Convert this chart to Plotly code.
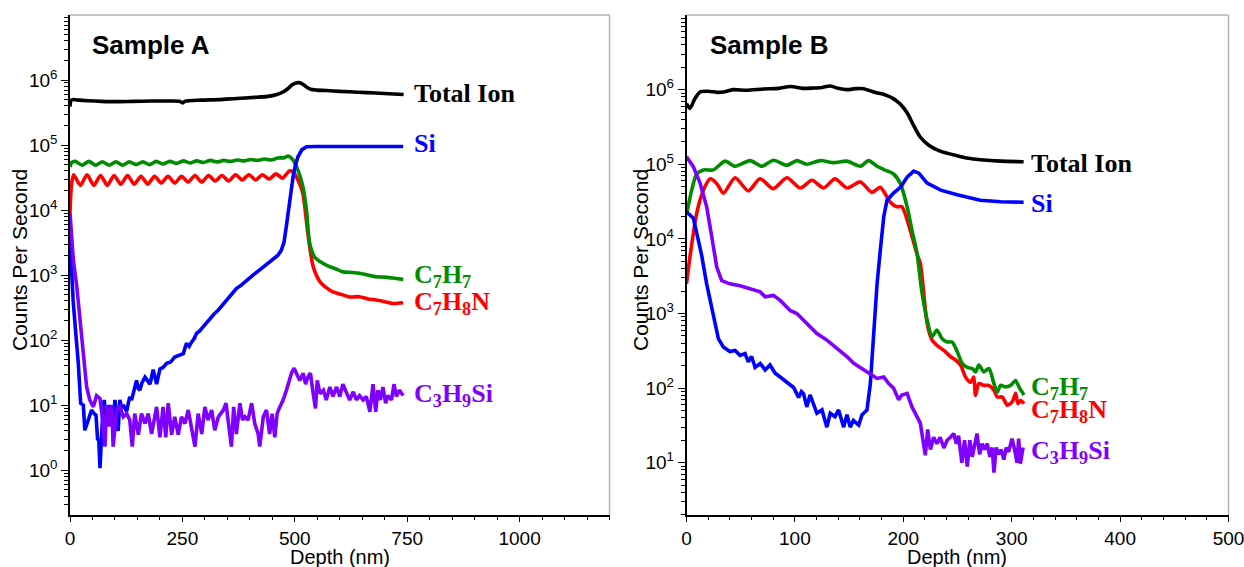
import plotly.graph_objects as go

# ---------------- Sample A data (depth nm, counts per second) ----------------
TOTAL_A = [(0, 3.9e5), (2, 4.8e5), (8, 5.0e5), (20, 4.9e5), (40, 4.8e5), (70, 4.7e5), (100, 4.65e5),
           (140, 4.7e5), (180, 4.75e5), (220, 4.75e5), (244, 4.7e5), (250, 4.45e5), (256, 4.7e5),
           (290, 4.9e5), (330, 5.0e5), (370, 5.2e5), (410, 5.4e5), (440, 5.6e5), (460, 6.0e5),
           (475, 6.6e5), (485, 7.4e5), (495, 8.5e5), (503, 9.0e5), (511, 9.1e5), (518, 8.6e5),
           (526, 7.8e5), (535, 7.2e5), (548, 7.0e5), (570, 6.9e5), (600, 6.7e5), (640, 6.5e5),
           (680, 6.3e5), (720, 6.1e5), (742, 6.0e5)]

SI_A = [(0, 3500), (4, 840), (7, 400), (12, 150), (18.5, 44), (23.7, 10.7), (29.6, 10), (33, 4.1),
        (37, 5), (40.7, 5.9), (44, 7), (48, 8.4), (53, 7.5), (57.8, 7), (61.5, 2.9), (64, 3),
        (66.7, 1.07), (70, 4), (73, 8), (76, 12), (81.5, 5.9), (85, 8), (89, 10), (93, 7), (96, 6),
        (100, 12), (104, 6), (107, 4), (111, 12), (115, 9), (118.5, 10), (122, 9), (126, 8),
        (130, 11), (133, 13.4), (137, 12), (141, 15), (144, 19), (148, 24), (152, 18), (155.5, 17),
        (160, 22), (166.7, 27), (172, 24), (178, 21), (185, 35), (192.6, 21), (200, 36), (207, 38),
        (215, 44), (224, 46), (233, 55), (242, 58), (252, 62), (259, 89), (265, 80), (270, 92),
        (276, 105), (281.5, 127), (289, 140), (296, 160), (303, 185), (311, 215), (320, 250),
        (330, 290), (339, 345), (348, 415), (359, 500), (370, 620), (381, 700), (393, 840),
        (407, 1000), (422, 1200), (437, 1450), (452, 1700), (462, 2000), (470, 2400), (476, 3200),
        (481, 5500), (485, 9000), (489, 1.4e4), (493, 2.2e4), (496, 3.2e4), (501, 4.8e4),
        (507, 6.6e4), (516, 8.5e4), (526, 9.4e4), (545, 9.5e4), (570, 9.5e4), (600, 9.4e4),
        (640, 9.4e4), (680, 9.5e4), (720, 9.4e4), (741, 9.5e4)]

C7H7_A = [(0, 4.6e4), (4, 5.4e4), (12, 5.6e4), (27, 4.9e4), (42, 5.6e4), (57, 4.9e4), (72, 5.5e4),
          (87, 4.9e4), (102, 5.5e4), (117, 4.9e4), (132, 5.5e4), (147, 5.0e4), (162, 5.5e4),
          (177, 5.0e4), (192, 5.6e4), (207, 5.1e4), (222, 5.6e4), (237, 5.2e4), (252, 5.7e4),
          (267, 5.3e4), (282, 5.7e4), (297, 5.4e4), (312, 5.8e4), (327, 5.5e4), (342, 5.8e4),
          (357, 5.6e4), (372, 5.9e4), (387, 5.7e4), (402, 6.0e4), (417, 5.8e4), (432, 6.1e4),
          (447, 5.9e4), (462, 6.3e4), (477, 6.4e4), (485, 6.8e4), (496, 5.9e4), (507, 4.1e4),
          (518, 2.3e4), (526, 1.0e4), (533, 3.1e3), (544, 1.9e3), (557, 1.6e3), (570, 1.42e3),
          (590, 1.25e3), (607, 1.12e3), (625, 1.1e3), (644, 1.07e3), (662, 1.0e3), (681, 940),
          (700, 930), (718, 900), (741, 860)]

C7H8N_A = [(0, 9e3), (3, 2.3e4), (8, 3.5e4), (23, 2.4e4), (38, 3.5e4), (53, 2.4e4), (68, 3.4e4),
           (83, 2.4e4), (98, 3.4e4), (113, 2.5e4), (128, 3.4e4), (143, 2.5e4), (158, 3.3e4),
           (173, 2.5e4), (188, 3.3e4), (203, 2.6e4), (218, 3.3e4), (233, 2.6e4), (248, 3.3e4),
           (263, 2.7e4), (278, 3.4e4), (293, 2.7e4), (308, 3.4e4), (323, 2.8e4), (338, 3.4e4),
           (353, 2.8e4), (368, 3.5e4), (383, 2.9e4), (398, 3.5e4), (413, 2.9e4), (428, 3.5e4),
           (443, 3.0e4), (458, 3.6e4), (473, 3.1e4), (488, 4.0e4), (497, 3.8e4), (507, 2.9e4),
           (518, 1.8e4), (529, 4.4e3), (541, 1.34e3), (556, 790), (570, 640), (585, 550),
           (605, 500), (622, 460), (644, 465), (663, 430), (681, 415), (700, 390), (718, 365),
           (741, 375)]

C3H9SI_A = [(0, 9000), (7.4, 1700), (14.8, 700), (18.5, 380), (26, 142), (33, 44), (37, 19), (44, 12),
            (52, 9.4), (59, 14), (66.7, 12.6), (72.6, 5.9), (77.8, 2.3), (81.5, 10), (87.4, 4.7),
            (92.6, 10), (96, 2.3), (103.7, 8.4), (111, 9.4), (118.5, 6.6), (126, 7.4), (133, 5.9),
            (138.5, 2.3), (144, 7.4), (152, 3.5), (159, 7.4), (167, 5.2), (174, 7.4), (181.5, 3.6),
            (192.6, 9.4), (200, 3.2), (207, 9.4), (213, 3.2), (218.5, 10.7), (226, 3.5), (233, 6.6),
            (240.7, 3.5), (248, 6.6), (255.5, 5.2), (263, 8.4), (270, 4.7), (278, 2.3), (285, 7.4),
            (293, 3.6), (300, 9.4), (307, 5.9), (315, 8.4), (322, 4.1), (330, 6.6), (341, 8.4),
            (347, 10.7), (352, 5.9), (359, 2.3), (364, 9.4), (370, 3.6), (378, 10.7), (383.7, 5.9),
            (389, 6.6), (396, 5.9), (404, 10.7), (411, 5.2), (418.5, 3.6), (422, 2.3), (430, 6.6),
            (437, 8.4), (444, 3.6), (449.6, 7.4), (455.5, 3.2), (460.7, 7.4), (466.7, 9.4), (474, 12),
            (481.5, 17), (487, 24), (492.6, 31), (498.5, 37), (505, 29), (511, 24), (518.5, 31),
            (524, 21), (529.6, 27.6), (534.8, 31), (541, 15), (546, 8.9), (550, 24), (556, 15),
            (563.7, 17), (570, 12), (578, 19), (585, 13.6), (593, 19), (600, 13.6), (607, 21),
            (615, 15), (622, 12), (630, 16), (637, 12), (644, 14), (652, 12), (659, 13.6),
            (667, 7.9), (674, 21), (680, 7.9), (685, 17), (690.4, 12), (696, 19), (702, 10.7),
            (707, 14), (715, 12), (720.7, 21), (726, 13.6), (733, 17), (741, 14)]

# ---------------- Sample B data ----------------
TOTAL_B = [(0, 6.5e5), (3.2, 5.6e5), (7.8, 7.6e5), (12.5, 9.3e5), (20, 9.5e5), (28, 9.2e5), (34, 9.3e5),
           (43, 1.0e6), (55, 9.8e5), (71, 1.02e6), (85, 1.04e6), (96, 1.1e6), (107, 1.04e6),
           (117, 1.05e6), (125, 1.07e6), (132.6, 1.12e6), (140, 1.04e6), (148, 1.0e6), (156, 1.03e6),
           (163.4, 1.03e6), (172.6, 9.3e5), (180, 8.8e5), (185, 8.3e5), (190, 7.7e5), (194, 7.0e5),
           (199, 6.0e5), (203.5, 4.9e5), (209.6, 3.3e5), (215.8, 2.3e5), (223.5, 1.8e5), (234, 1.5e5),
           (249.7, 1.3e5), (260, 1.2e5), (271, 1.15e5), (289.6, 1.1e5), (311, 1.08e5)]

SI_B = [(0, 2.3e4), (6.3, 1.9e4), (11, 9500), (14, 6000), (18.6, 2500), (24.8, 900), (29.4, 460),
        (34, 355), (40, 310), (44.8, 320), (49.4, 275), (54, 290), (57, 225), (60, 265), (63.3, 190),
        (68, 214), (72.6, 175), (77, 204), (81.8, 158), (86.4, 141), (92.6, 120), (98.8, 102),
        (103.4, 75), (106, 90), (108, 84), (111, 56), (114, 81), (117, 62), (120.3, 46), (125, 51),
        (129.5, 30), (132.6, 46), (137, 41.6), (140.3, 51), (145, 30), (148, 44), (151, 30), (154, 37),
        (158.8, 32), (162, 44), (166.5, 51), (169.6, 115), (172.6, 540), (175.8, 2500), (178.8, 7100),
        (182, 2.0e4), (185, 3.3e4), (191, 4.1e4), (197.3, 4.9e4), (203.5, 6.7e4), (209.6, 8.1e4),
        (214.3, 7.6e4), (222, 5.6e4), (234.5, 4.5e4), (249.7, 3.9e4), (271, 3.3e4), (290, 3.15e4),
        (311, 3.1e4)]

C7H7_B = [(0, 2.1e4), (4.8, 4.5e4), (9.4, 7.4e4), (15.6, 8.4e4), (24.8, 8.4e4), (35.6, 1.1e5),
          (44.8, 9.4e4), (58.7, 1.12e5), (69.5, 9.4e4), (80.2, 1.13e5), (92.6, 9.7e4), (101.8, 1.12e5),
          (111, 1.0e5), (123.4, 1.12e5), (135.7, 1.05e5), (148, 1.1e5), (160.4, 9.4e4), (168, 1.12e5),
          (175.8, 9.4e4), (182, 8.5e4), (191, 7.4e4), (197.3, 5.5e4), (203.5, 2.7e4), (208, 1.3e4),
          (212.6, 6500), (217, 2000), (222, 810), (226.6, 490), (231, 600), (235.8, 460),
          (240.4, 415), (245, 415), (249.7, 310), (254.3, 215), (259, 190), (263.6, 183),
          (266.6, 165), (269.7, 204), (274.3, 165), (279, 183), (283.6, 115), (286.7, 89),
          (289.7, 109), (294.3, 104), (299, 109), (303.6, 126), (306.7, 104), (311.3, 81)]

C7H8N_B = [(0, 2500), (3.2, 5800), (9.4, 2.2e4), (15.6, 4.5e4), (21.8, 6.4e4), (28, 5.5e4), (34, 4.1e4),
           (44.8, 6.6e4), (57, 4.4e4), (67.8, 6.4e4), (80, 4.7e4), (92.6, 6.6e4), (105, 4.8e4),
           (115.7, 6.1e4), (126.5, 4.8e4), (137, 6.4e4), (148, 4.8e4), (160.4, 5.8e4), (171, 4.2e4),
           (178.8, 4.9e4), (188, 3.1e4), (194, 2.7e4), (198.7, 2.7e4), (206.4, 1.3e4), (212.6, 6300),
           (215.7, 4700), (222, 740), (226.6, 440), (231, 375), (237.4, 320), (243.5, 265),
           (248, 240), (252.8, 204), (257.4, 141), (262, 120), (265, 141), (266.6, 80), (269.7, 115),
           (274.3, 109), (279, 109), (283.6, 94), (286.7, 76), (291.3, 76), (296, 59), (300.6, 66),
           (303.6, 85), (305.8, 62), (308.3, 68), (311.3, 62)]

C3H9SI_B = [(0, 1.26e5), (6.3, 9.3e4), (12.5, 5.6e4), (18.6, 2.7e4), (23.3, 1.07e4), (27.9, 4200),
            (32.5, 2750), (40, 2500), (49.4, 2360), (58.7, 2150), (68, 1950), (72.6, 1670),
            (80.2, 1750), (86.4, 1500), (95.6, 1100), (101.8, 1000), (111, 730), (120.3, 540),
            (129.5, 440), (135.7, 375), (141.9, 310), (148, 265), (154.3, 215), (162, 183),
            (169.6, 158), (175.8, 135), (182, 141), (186.5, 115), (191, 100), (195.7, 70),
            (198.7, 81), (203.5, 85), (208, 56), (212.6, 41), (215.7, 34), (220.3, 12.6),
            (222.5, 28), (225, 15), (228, 22), (231, 18), (234, 22), (237.4, 15.8), (240.4, 20),
            (243.5, 22), (246.5, 24.6), (249, 18), (251, 23), (254, 10), (256.5, 20), (259, 8.9),
            (261.4, 20), (263.6, 12), (265.7, 18), (268, 24.6), (270.4, 13), (272.8, 18), (275, 15),
            (277.4, 18), (279.9, 12), (282, 16), (283.6, 7.4), (285.7, 16), (288, 13), (290.3, 15),
            (292.7, 11), (295, 16), (297.2, 14), (300.3, 21), (302.7, 15), (304.9, 10), (306.4, 21),
            (308, 9.7), (310.5, 16)]

# series names (HTML subscripts) and colours
NAMES = ["Total Ion", "C<sub>7</sub>H<sub>8</sub>N", "C<sub>7</sub>H<sub>7</sub>", "Si",
         "C<sub>3</sub>H<sub>9</sub>Si"]
COLORS = ["#000000", "#ff0000", "#008c00", "#0000ff", "#8000ff"]
SMOOTH = [True, True, True, False, False]

SERIES_A = [TOTAL_A, C7H8N_A, C7H7_A, SI_A, C3H9SI_A]
SERIES_B = [TOTAL_B, C7H8N_B, C7H7_B, SI_B, C3H9SI_B]

# label anchor positions (depth, log10 counts)
LABEL_A = [(760, 5.8), (760, 2.57), (760, 2.98), (760, 5.03), (760, 1.15)]
LABEL_B = [(316, 5.01), (316, 1.70), (316, 2.0), (316, 4.48), (316, 1.14)]

Y_TICK_VALS = [1, 10, 100, 1000, 1e4, 1e5, 1e6]
Y_TICK_TEXT = ["10<sup>0</sup>", "10<sup>1</sup>", "10<sup>2</sup>", "10<sup>3</sup>",
               "10<sup>4</sup>", "10<sup>5</sup>", "10<sup>6</sup>"]

SANS = "Liberation Sans, Arial, sans-serif"
SERIF = "Liberation Serif, Times New Roman, serif"

W, H = 1244, 567


def px(X):
    return X / W


def py(Y):
    return 1 - Y / H


fig = go.Figure()

for series, xa, ya in ((SERIES_A, "x", "y"), (SERIES_B, "x2", "y2")):
    for data, name, col, sm in zip(series, NAMES, COLORS, SMOOTH):
        d = [p[0] for p in data]
        v = [p[1] for p in data]
        fig.add_trace(go.Scatter(
            x=d, y=v, mode="lines", name=name, xaxis=xa, yaxis=ya,
            line=dict(color=col, width=3.6, shape="spline" if sm else "linear",
                      smoothing=0.7 if sm else None),
            showlegend=False, hoverinfo="skip"))

minor_vals = [m * 10 ** k for k in range(-1, 7) for m in range(2, 10)]

ydom = [py(515), py(15)]
xdomA = [px(70), px(609.5)]
xdomB = [px(686.5), px(1228.5)]

axis_common = dict(showgrid=False, zeroline=False, showline=True, linecolor="black", linewidth=1.5,
                   ticks="outside", tickcolor="black", tickwidth=1.2, automargin=False,
                   ticklabeloverflow="allow",
                   tickfont=dict(family=SANS, size=19, color="black"))

yaxis_common = dict(axis_common, type="log", tickmode="array", tickvals=Y_TICK_VALS,
                    ticktext=Y_TICK_TEXT, ticklen=7,
                    minor=dict(tickmode="array", tickvals=minor_vals, ticks="outside", ticklen=4,
                               tickcolor="black", tickwidth=1))

fig.update_layout(
    width=W, height=H, margin=dict(l=0, r=0, t=0, b=0, autoexpand=False),
    paper_bgcolor="white", plot_bgcolor="white",
    xaxis=dict(axis_common, domain=xdomA, range=[0, 1200], tick0=0, dtick=250, ticklen=5,
               minor=dict(dtick=50, ticks="outside", ticklen=3, tickcolor="black", tickwidth=1),
               anchor="y"),
    yaxis=dict(yaxis_common, domain=ydom, range=[-0.69, 7.0], anchor="x"),
    xaxis2=dict(axis_common, domain=xdomB, range=[0, 500], tick0=0, dtick=100, ticklen=5,
                minor=dict(dtick=20, ticks="outside", ticklen=3, tickcolor="black", tickwidth=1),
                anchor="y2"),
    yaxis2=dict(yaxis_common, domain=ydom, range=[0.3, 7.0], anchor="x2"),
)

# grey top/right frame lines
shapes = []
for xr, yr in (("x domain", "y domain"), ("x2 domain", "y2 domain")):
    shapes.append(dict(type="line", xref=xr, yref=yr, x0=0, x1=1, y0=1, y1=1,
                       line=dict(color="#b4b4b4", width=1.5)))
    shapes.append(dict(type="line", xref=xr, yref=yr, x0=1, x1=1, y0=0, y1=1,
                       line=dict(color="#b4b4b4", width=1.5)))
fig.update_layout(shapes=shapes)

ann = []
for labels, xr, yr in ((LABEL_A, "x", "y"), (LABEL_B, "x2", "y2")):
    for (lx, ly), name, col in zip(labels, NAMES, COLORS):
        ann.append(dict(x=lx, y=ly, xref=xr, yref=yr, text="<b>%s</b>" % name, showarrow=False,
                        xanchor="left", yanchor="middle",
                        font=dict(family=SERIF, size=26, color=col)))

# panel titles
for lx, txt in ((90, "Sample A"), (708, "Sample B")):
    ann.append(dict(x=px(lx), y=py(45), xref="paper", yref="paper", text="<b>%s</b>" % txt,
                    showarrow=False, xanchor="left", yanchor="middle",
                    font=dict(family=SANS, size=26, color="black")))
# axis titles
for cx in (19, 640):
    ann.append(dict(x=px(cx), y=py(260), xref="paper", yref="paper",
                    text="Counts Per Second", textangle=-90, showarrow=False,
                    xanchor="center", yanchor="middle",
                    font=dict(family=SANS, size=21, color="black")))
for cx in (340, 957):
    ann.append(dict(x=px(cx), y=py(557), xref="paper", yref="paper",
                    text="Depth (nm)", showarrow=False, xanchor="center", yanchor="middle",
                    font=dict(family=SANS, size=20, color="black")))
fig.update_layout(annotations=ann)

# remove the browser's default page margin so the figure sits at the window origin
fig.write_html("out.html", config={"displayModeBar": False},
               post_script="document.body.style.margin='0';document.body.style.overflow='hidden';")
